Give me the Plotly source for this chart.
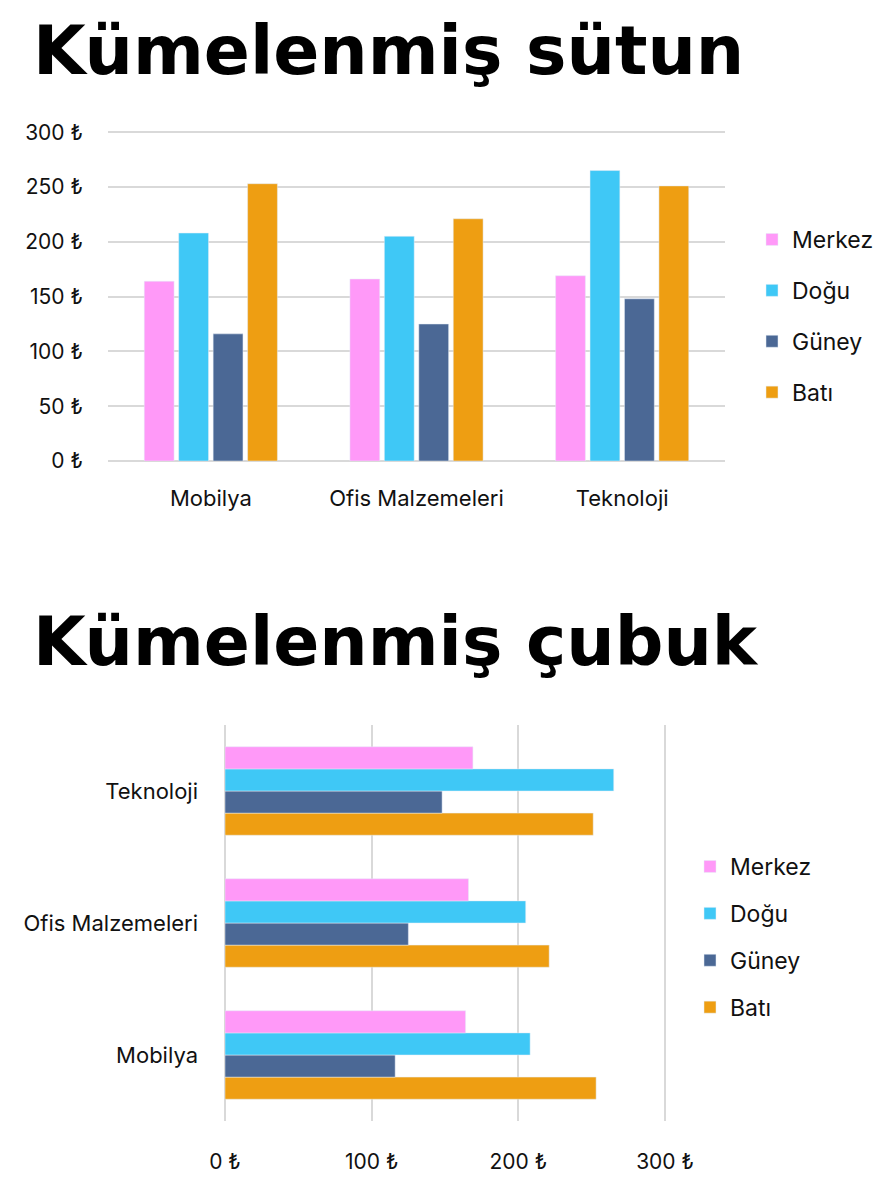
import plotly.graph_objects as go

categories = ["Mobilya", "Ofis Malzemeleri", "Teknoloji"]
regions = ["Merkez", "Doğu", "Güney", "Batı"]
merkez = [164, 166, 169]
dogu = [208, 205, 265]
guney = [116, 125, 148]
bati = [253, 221, 251]
colors = ["#FF99F8", "#3FC8F6", "#4B6895", "#EE9E12"]

series = [merkez, dogu, guney, bati]
W, H = 896, 1184
OFF = 8  # the page body adds an 8px margin, so place everything 8px up/left
FONT = "Inter, Noto Sans, sans-serif"
TITLE_FONT = "DejaVu Sans, sans-serif"


def px_x(a, b):
    return [(a - OFF) / W, (b - OFF) / W]


def px_y(top, bottom):
    return [1 - (bottom - OFF) / H, 1 - (top - OFF) / H]


def pos_x(a):
    return (a - OFF) / W


def pos_y(a):
    return 1 - (a - OFF) / H


fig = go.Figure()

# top chart: clustered columns (narrower bars leave a gap inside each group)
for name, vals, col in zip(regions, series, colors):
    fig.add_trace(go.Bar(
        x=categories, y=vals, name=name, marker_color=col, width=0.145,
        xaxis="x", yaxis="y", legend="legend", legendgroup="t" + name,
    ))

# bottom chart: horizontal bars, added in reverse so Merkez sits on top
for i, (name, vals, col) in reversed(list(enumerate(zip(regions, series, colors)))):
    fig.add_trace(go.Bar(
        y=categories, x=vals, name=name, marker_color=col, orientation="h",
        xaxis="x2", yaxis="y2", legend="legend2", legendgroup="b" + name,
        legendrank=1000 + i,
    ))

grid = "#d9d9d9"
fig.update_layout(
    width=W, height=H,
    margin=dict(l=0, r=0, t=0, b=0),
    paper_bgcolor="white", plot_bgcolor="white",
    font=dict(family=FONT, size=22, color="#111111"),
    barmode="group",
    bargap=0.33, bargroupgap=0,
    xaxis=dict(domain=px_x(108, 725), anchor="y", showgrid=False, automargin=False,
               ticks="", ticklabelstandoff=22, tickfont=dict(size=22)),
    yaxis=dict(domain=px_y(130, 461), anchor="x", range=[0, 302], dtick=50,
               ticksuffix=" ₺", showgrid=True, gridcolor=grid, gridwidth=1.5,
               zeroline=True, zerolinecolor=grid, zerolinewidth=1.5, automargin=False,
               ticks="", ticklabelstandoff=24, tickfont=dict(size=21)),
    xaxis2=dict(domain=px_x(225, 668), anchor="y2", range=[0, 302], dtick=100,
                ticksuffix=" ₺", showgrid=True, gridcolor=grid, gridwidth=1.5,
                zeroline=True, zerolinecolor=grid, zerolinewidth=1.5, automargin=False,
                ticks="", ticklabelstandoff=26, tickfont=dict(size=21)),
    yaxis2=dict(domain=px_y(725, 1121), anchor="x2", showgrid=False, automargin=False,
                ticks="", ticklabelstandoff=26, tickfont=dict(size=22)),
    legend=dict(x=pos_x(752), y=pos_y(316), xanchor="left", yanchor="middle",
                font=dict(size=23), tracegroupgap=18, itemwidth=30),
    legend2=dict(x=pos_x(690), y=pos_y(937), xanchor="left", yanchor="middle",
                 font=dict(size=23), tracegroupgap=14, itemwidth=30,
                 traceorder="grouped"),
    annotations=[
        dict(text="<b>Kümelenmiş sütun</b>", x=pos_x(31), y=pos_y(50),
             xref="paper", yref="paper", xanchor="left", yanchor="middle",
             showarrow=False, font=dict(family=TITLE_FONT, size=68, color="#000000")),
        dict(text="<b>Kümelenmiş çubuk</b>", x=pos_x(31), y=pos_y(641),
             xref="paper", yref="paper", xanchor="left", yanchor="middle",
             showarrow=False, font=dict(family=TITLE_FONT, size=68, color="#000000")),
    ],
)

fig.write_html("out.html")
